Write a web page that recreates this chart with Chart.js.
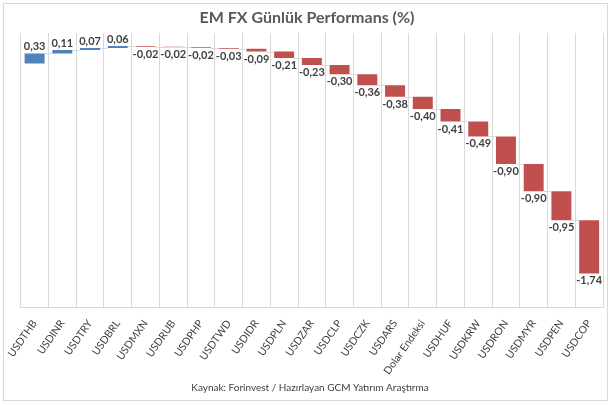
<!DOCTYPE html>
<html>
<head>
<meta charset="utf-8">
<script src="https://cdn.jsdelivr.net/npm/chart.js@4"></script>
<style>
  html, body { margin: 0; padding: 0; background: #fff; }
  #wrap { position: relative; width: 611px; height: 405px; }
</style>
</head>
<body>
<div id="wrap"><canvas id="grafico"></canvas></div>
<script>
// Dados
const kurlar = ['USDTHB', 'USDINR', 'USDTRY', 'USDBRL', 'USDMXN', 'USDRUB', 'USDPHP', 'USDTWD',
  'USDIDR', 'USDPLN', 'USDZAR', 'USDCLP', 'USDCZK', 'USDARS', 'Dolar Endeksi', 'USDHUF',
  'USDKRW', 'USDRON', 'USDMYR', 'USDPEN', 'USDCOP'];
const degisim = [0.33, 0.11, 0.07, 0.06, -0.02, -0.02, -0.02, -0.03, -0.09, -0.21, -0.23,
  -0.30, -0.36, -0.38, -0.40, -0.41, -0.49, -0.90, -0.90, -0.95, -1.74];

const baslik = 'EM FX Günlük Performans (%)';
const kaynak = 'Kaynak: Forinvest / Hazırlayan GCM Yatırım Araştırma';

// Cascata: cada barra começa onde a anterior terminou
let acumulado = 0;
const barras = degisim.map(v => {
  const ini = acumulado;
  acumulado += v;
  return [ini, acumulado];
});
const cores = degisim.map(v => v >= 0 ? '#4f81bd' : '#c0504d');

// Linhas de ligação + rótulos dos valores
const cascataPlugin = {
  id: 'cascata',
  afterDatasetsDraw(chart) {
    const ctx = chart.ctx;
    const meta = chart.getDatasetMeta(0);
    const y = chart.scales.y;
    ctx.save();
    ctx.strokeStyle = '#d9d9d9';
    ctx.lineWidth = 1;
    for (let i = 0; i < meta.data.length - 1; i++) {
      const a = meta.data[i], b = meta.data[i + 1];
      const py = Math.round(y.getPixelForValue(barras[i][1])) + 0.5;
      ctx.beginPath();
      ctx.moveTo(a.x + a.width / 2, py);
      ctx.lineTo(b.x - b.width / 2, py);
      ctx.stroke();
    }
    ctx.font = 'bold 11px Lato, "Open Sans", sans-serif';
    ctx.fillStyle = '#404040';
    ctx.textAlign = 'center';
    meta.data.forEach((el, i) => {
      const v = degisim[i];
      const py = y.getPixelForValue(barras[i][1]);
      const txt = v.toFixed(2).replace('.', ',');
      if (v >= 0) {
        ctx.textBaseline = 'bottom';
        ctx.fillText(txt, el.x, py - 1);
      } else {
        ctx.textBaseline = 'top';
        ctx.fillText(txt, el.x, py + 2);
      }
    });
    ctx.restore();
  },
  afterDraw(chart) {
    const ctx = chart.ctx;
    ctx.save();
    ctx.textAlign = 'center';
    ctx.textBaseline = 'middle';
    ctx.fillStyle = '#595959';
    ctx.font = 'bold 16px Lato, "Open Sans", sans-serif';
    ctx.fillText(baslik, 307, 18);
    ctx.fillStyle = '#404040';
    ctx.font = '10px Lato, "Open Sans", sans-serif';
    ctx.fillText(kaynak, 310, 388);
    ctx.strokeStyle = '#d9d9d9';
    ctx.lineWidth = 1;
    ctx.strokeRect(3.5, 3.5, 604, 397);
    ctx.restore();
  }
};

const ctx = document.getElementById('grafico').getContext('2d');
const grafico = new Chart(ctx, {
  type: 'bar',
  data: {
    labels: kurlar,
    datasets: [{
      data: barras,
      backgroundColor: cores,
      borderWidth: 0,
      barPercentage: 0.72,
      categoryPercentage: 1
    }]
  },
  options: {
    responsive: true,
    maintainAspectRatio: false,
    animation: false,
    layout: { padding: { left: 20, right: 8, top: 33, bottom: 18 } },
    plugins: {
      legend: { display: false },
      tooltip: { enabled: false }
    },
    scales: {
      x: {
        grid: { color: '#d9d9d9', offset: true, drawTicks: false },
        border: { color: '#d9d9d9' },
        ticks: {
          color: '#404040',
          font: { family: 'Lato, "Open Sans", sans-serif', size: 10.5 },
          maxRotation: 55,
          minRotation: 55,
          autoSkip: false,
          padding: 10
        }
      },
      y: {
        display: false,
        min: -8,
        max: 1
      }
    }
  },
  plugins: [cascataPlugin]
});
</script>
</body>
</html>
